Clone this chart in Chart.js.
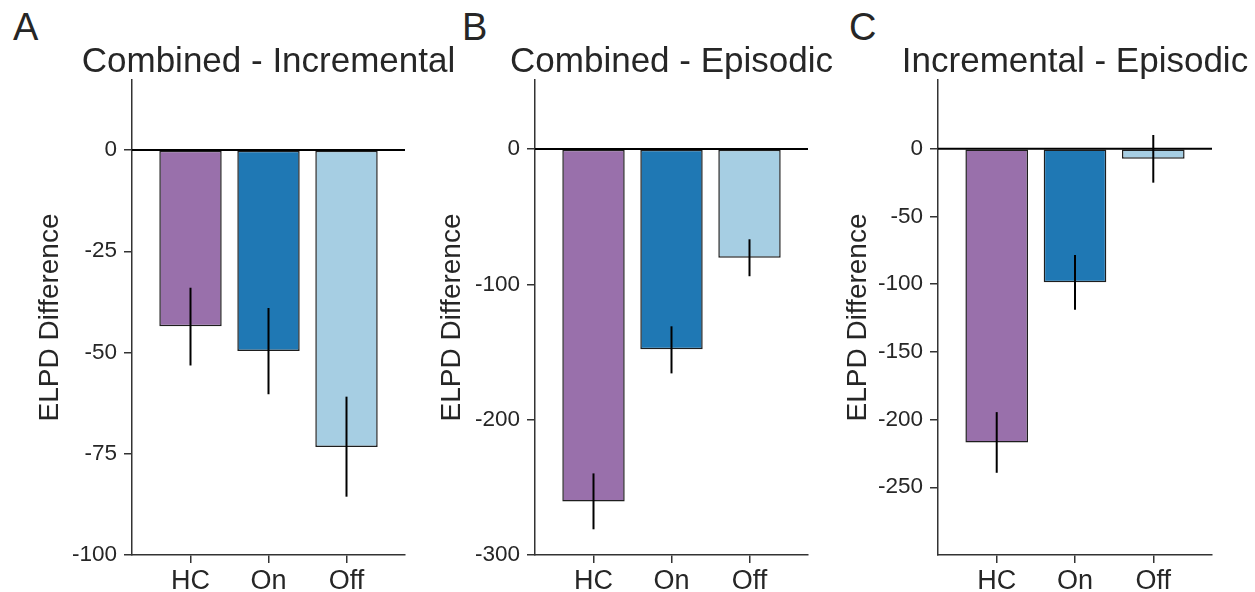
<!DOCTYPE html>
<html lang="en">
<head>
<meta charset="UTF-8">
<title>ELPD Difference</title>
<script src="https://cdn.jsdelivr.net/npm/chart.js"></script>
<style>
  body { margin: 0; width: 1255px; height: 592px; overflow: hidden; background: #fff; position: relative;
         font-family: "Liberation Sans", Arial, sans-serif; }
  .panel { position: absolute; top: 0; height: 592px; }
  .letter { position: absolute; top: 8px; font-size: 38px; line-height: 1; color: #262626; }
</style>
</head>
<body>
<div class="letter" style="left:13px">A</div>
<div class="letter" style="left:462px">B</div>
<div class="letter" style="left:849px">C</div>

<div class="panel" style="left:33px;width:440px"><canvas id="chartA"></canvas></div>
<div class="panel" style="left:435px;width:420px"><canvas id="chartB"></canvas></div>
<div class="panel" style="left:841px;width:414px"><canvas id="chartC"></canvas></div>

<script>
// groups and colours
const groups = ['HC', 'On', 'Off'];
const barColors = ['#9970ab', '#1f78b4', '#a6cee3'];

// A: Combined - Incremental
const meanA = [-43.5, -49.6, -73.3];
const lowA  = [-53.2, -60.3, -85.6];
const highA = [-34.0, -39.0, -60.9];
const ticksA = [0, -25, -50, -75, -100];

// B: Combined - Episodic
const meanB = [-260.4, -148.0, -80.3];
const lowB  = [-281.0, -165.8, -94.0];
const highB = [-239.7, -131.0, -66.7];
const ticksB = [0, -100, -200, -300];

// C: Incremental - Episodic
const meanC = [-217.0, -98.7, -7.4];
const lowC  = [-239.3, -119.0, -25.1];
const highC = [-194.5, -78.5, 10.1];
const ticksC = [0, -50, -100, -150, -200, -250];

const FONT = '"Liberation Sans", Arial, sans-serif';
const TEXT = '#262626';
const AXIS = '#333333';

// zero line, error bars and the panel title
const extras = {
  id: 'extras',
  afterDatasetsDraw(chart, args, opts) {
    const ctx = chart.ctx;
    const x = chart.scales.x, y = chart.scales.y;
    const area = chart.chartArea;
    ctx.save();
    ctx.strokeStyle = '#000';
    ctx.lineWidth = 2;
    const y0 = y.getPixelForValue(0);
    ctx.beginPath();
    ctx.moveTo(area.left, y0);
    ctx.lineTo(area.right, y0);
    ctx.stroke();
    opts.lows.forEach((lo, i) => {
      const px = x.getPixelForValue(i);
      ctx.beginPath();
      ctx.moveTo(px, y.getPixelForValue(lo));
      ctx.lineTo(px, y.getPixelForValue(opts.highs[i]));
      ctx.stroke();
    });
    ctx.fillStyle = TEXT;
    ctx.font = '35px ' + FONT;
    ctx.textAlign = 'center';
    ctx.textBaseline = 'alphabetic';
    ctx.fillText(opts.title, (area.left + area.right) / 2, 72);
    ctx.restore();
  }
};

function makePanel(id, title, means, lows, highs, yMin, yMax, yTicks, axisW, padRight) {
  new Chart(document.getElementById(id), {
    type: 'bar',
    data: {
      datasets: [{
        data: means.map((v, i) => ({ x: i, y: v })),
        backgroundColor: barColors,
        borderColor: '#1e1e1e',
        borderWidth: 1.5,
        borderSkipped: false,
        categoryPercentage: 1,
        barPercentage: 0.8
      }]
    },
    options: {
      responsive: true,
      maintainAspectRatio: false,
      animation: false,
      layout: { padding: { left: 0, right: padRight, top: 80, bottom: 0 } },
      plugins: {
        legend: { display: false },
        tooltip: { enabled: false },
        extras: { title: title, lows: lows, highs: highs }
      },
      scales: {
        x: {
          type: 'linear', min: -0.75, max: 2.75, offset: false,
          afterBuildTicks: s => { s.ticks = groups.map((g, i) => ({ value: i })); },
          afterFit: s => { s.height = 37; },
          ticks: { callback: v => groups[v], color: TEXT, font: { family: FONT, size: 27 }, padding: 2 },
          grid: { offset: false, drawOnChartArea: false, tickLength: 8, lineWidth: 1.5, tickWidth: 1.5, tickColor: AXIS },
          border: { display: true, color: AXIS, width: 1.5 }
        },
        y: {
          min: yMin, max: yMax,
          afterBuildTicks: s => { s.ticks = yTicks.map(v => ({ value: v })); },
          afterFit: s => { s.width = axisW; },
          ticks: { callback: v => String(v), color: TEXT, font: { family: FONT, size: 22.5 }, padding: 7 },
          grid: { drawOnChartArea: false, tickLength: 8, lineWidth: 1.5, tickWidth: 1.5, tickColor: AXIS },
          border: { display: true, color: AXIS, width: 1.5 },
          title: { display: true, text: 'ELPD Difference', color: TEXT, font: { family: FONT, size: 28 }, padding: 0 }
        }
      }
    },
    plugins: [extras]
  });
}

makePanel('chartA', 'Combined - Incremental', meanA, lowA, highA, -100, 17.3, ticksA, 99, 68);
makePanel('chartB', 'Combined - Episodic', meanB, lowB, highB, -300, 51, ticksB, 100, 47);
makePanel('chartC', 'Incremental - Episodic', meanC, lowC, highC, -300, 50.7, ticksC, 97, 43);
</script>
</body>
</html>
